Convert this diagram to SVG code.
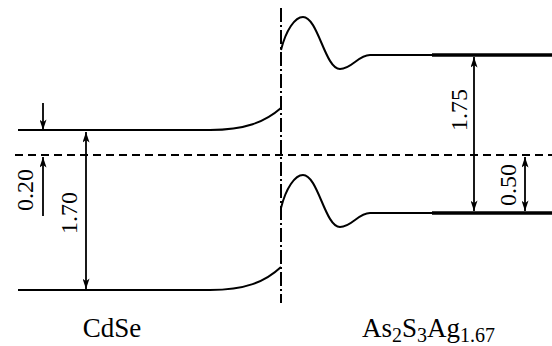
<svg xmlns="http://www.w3.org/2000/svg" width="552" height="346" viewBox="0 0 552 346">
<style>
.ln{fill:none;stroke:#000;stroke-width:2}
.thick{fill:none;stroke:#000;stroke-width:3.5}
.ar{fill:none;stroke:#000;stroke-width:1.8}
.num{font-family:"Liberation Serif",serif;font-size:24px;fill:#000}
.lab{font-family:"Liberation Serif",serif;font-size:27px;fill:#000}
.sub{font-size:20px}
</style>
<defs>
<marker id="ah" viewBox="0 0 12 8" refX="12" refY="4" markerWidth="12" markerHeight="7" markerUnits="userSpaceOnUse" orient="auto-start-reverse">
<path d="M0,0 L12,4 L0,8 L3,4 Z" fill="#000"/>
</marker>
</defs>
<rect width="552" height="346" fill="#fff"/>
<g id="axes">
<line x1="15" y1="155" x2="552" y2="155" stroke="#000" stroke-width="2" stroke-dasharray="8,5"/>
<line x1="281" y1="8" x2="281" y2="303" stroke="#000" stroke-width="2" stroke-dasharray="14,3,2,3"/>
</g>
<g id="cdse-bands">
<path class="ln" d="M18,130 L210,130 C245,130 265,122 281,108"/>
<path class="ln" d="M18,290 L210,290 C245,290 265,282 281,267"/>
</g>
<g id="as2s3ag-bands">
<path class="ln" d="M281,50 C286,30 295,17 303,17 C318,17 325,69 340,69 C352,69 358,55 370,55 L432,55"/>
<line class="thick" x1="432" y1="55" x2="552" y2="55"/>
<path class="ln" d="M281,208 C286,188 295,175 303,175 C318,175 325,227 340,227 C352,227 358,213 370,213 L432,213"/>
<line class="thick" x1="432" y1="213" x2="552" y2="213"/>
</g>
<g id="connectors">
<line class="ar" x1="43" y1="103" x2="43" y2="130" marker-end="url(#ah)"/>
<line class="ar" x1="43" y1="216" x2="43" y2="157" marker-end="url(#ah)"/>
<line class="ar" x1="86" y1="132" x2="86" y2="289" marker-start="url(#ah)" marker-end="url(#ah)"/>
<line class="ar" x1="474" y1="57" x2="474" y2="211" marker-start="url(#ah)" marker-end="url(#ah)"/>
<line class="ar" x1="525" y1="157" x2="525" y2="211" marker-start="url(#ah)" marker-end="url(#ah)"/>
</g>
<g id="label-020"><text class="num" text-anchor="middle" transform="translate(33,190) rotate(-90)">0.20</text></g>
<g id="label-170"><text class="num" text-anchor="middle" transform="translate(77,213) rotate(-90)">1.70</text></g>
<g id="label-175"><text class="num" text-anchor="middle" transform="translate(467,110) rotate(-90)">1.75</text></g>
<g id="label-050"><text class="num" text-anchor="middle" transform="translate(516,185) rotate(-90)">0.50</text></g>
<g id="label-cdse"><text class="lab" x="112" y="337" text-anchor="middle">CdSe</text></g>
<g id="label-as2s3ag"><text class="lab" x="362" y="337">As<tspan class="sub" dy="5">2</tspan><tspan dy="-5">S</tspan><tspan class="sub" dy="5">3</tspan><tspan dy="-5">Ag</tspan><tspan class="sub" dy="5">1.67</tspan></text></g>
</svg>
